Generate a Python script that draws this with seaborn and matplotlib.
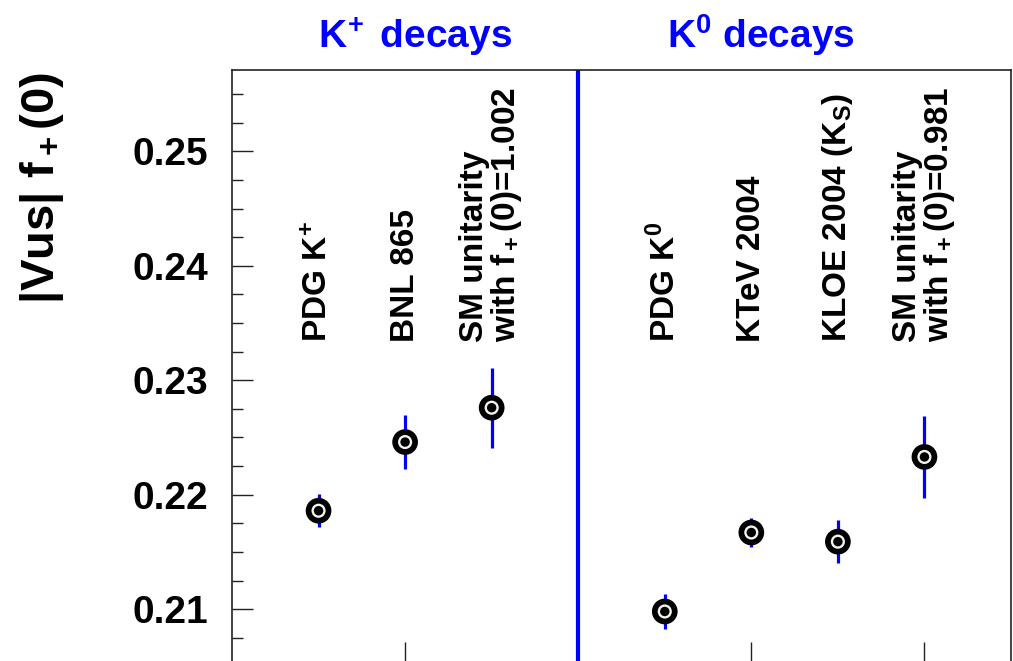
import matplotlib
matplotlib.use("Agg")
import matplotlib.pyplot as plt
import matplotlib.transforms as mtransforms
from matplotlib.ticker import MultipleLocator, FormatStrFormatter
import seaborn as sns
import pandas as pd

# ---- data ----
kplus_labels = ["PDG K$^{\\!+}$", "BNL 865", "SM unitarity\nwith f$_+$(0)=1.002"]
kplus_values = [0.2186, 0.2246, 0.2276]
kplus_errors = [0.00145, 0.00235, 0.0035]

k0_labels = ["PDG K$^0$", "KTeV 2004", "KLOE 2004 (K$_S$)", "SM unitarity\nwith f$_+$(0)=0.981"]
k0_values = [0.2098, 0.2167, 0.2159, 0.2233]
k0_errors = [0.00157, 0.00125, 0.0019, 0.0036]

group_titles = ["K$^{\\!+}$ decays", "K$^0$ decays"]
y_ticks = [0.21, 0.22, 0.23, 0.24, 0.25]
y_label = "|Vus| f$_+$(0)"

# ---- build table ----
n_plus = len(kplus_labels)
x_plus = [i + 1 for i in range(n_plus)]
sep_x = n_plus + 1
x_zero = [sep_x + 1 + i for i in range(len(k0_labels))]
df = pd.DataFrame({
    "x": x_plus + x_zero,
    "value": kplus_values + k0_values,
    "err": kplus_errors + k0_errors,
    "label": kplus_labels + k0_labels,
})

sns.set_style("white")
plt.rcParams["font.family"] = ["Liberation Sans", "DejaVu Sans"]
plt.rcParams["font.weight"] = "bold"
plt.rcParams["mathtext.fontset"] = "custom"
plt.rcParams["mathtext.rm"] = "Liberation Sans:bold"
plt.rcParams["mathtext.bf"] = "Liberation Sans:bold"
plt.rcParams["mathtext.it"] = "Liberation Sans:bold"
plt.rcParams["mathtext.default"] = "bf"
for k in ["text.color", "axes.labelcolor", "xtick.color", "ytick.color"]:
    plt.rcParams[k] = "black"

fig = plt.figure(figsize=(10.13, 6.61), dpi=100)
ax = fig.add_axes([232 / 1013, -2 / 661, (1011 - 232) / 1013, (663 - 70) / 661])

blue = "#0000ff"
# error bars
ax.vlines(df["x"], df["value"] - df["err"], df["value"] + df["err"], color=blue, lw=2.3, zorder=2)
# separator
ax.axvline(sep_x, color=blue, lw=3.0, zorder=1)

# layered circle markers
sns.scatterplot(data=df, x="x", y="value", ax=ax, s=18.5 ** 2, color="black", edgecolor="none", zorder=3, legend=False)
sns.scatterplot(data=df, x="x", y="value", ax=ax, s=10.2 ** 2, color="#f4f4ee", edgecolor="none", zorder=4, legend=False)
sns.scatterplot(data=df, x="x", y="value", ax=ax, s=6.8 ** 2, color="black", edgecolor="none", zorder=5, legend=False)

ax.set_xlim(0, sep_x + len(k0_labels) + 1)
ax.set_ylim(0.2053, 0.2571)

# labels
for _, r in df.iterrows():
    ax.text(r["x"], 0.2333, r["label"], rotation=90, ha="center", va="bottom",
            fontsize=24, fontweight="bold", linespacing=0.95, multialignment="left")

trans = mtransforms.blended_transform_factory(ax.transData, ax.transAxes)
ax.text(2.12, 1.037, group_titles[0], transform=trans, ha="center", va="baseline",
        color=blue, fontsize=28, fontweight="bold")
ax.text(6.11, 1.037, group_titles[1], transform=trans, ha="center", va="baseline",
        color=blue, fontsize=28, fontweight="bold")

# axes styling
ax.set_xlabel("")
ax.set_ylabel("")
ax.set_yticks(y_ticks)
ax.yaxis.set_major_formatter(FormatStrFormatter("%.2f"))
ax.yaxis.set_minor_locator(MultipleLocator(0.0025))
ax.set_xticks([2, 4, 6, 8])
ax.set_xticklabels([])
ax.tick_params(axis="y", which="major", direction="in", length=15, width=1.0, pad=17,
               labelsize=28, left=True, right=False, color="#222222", labelcolor="black")
ax.tick_params(axis="y", which="minor", direction="in", length=8, width=1.0, left=True, right=False, color="#222222")
ax.tick_params(axis="x", which="major", direction="in", length=15, width=1.0, bottom=True, top=False, color="#222222")
for lab in ax.get_yticklabels():
    lab.set_fontweight("bold")
for sp in ax.spines.values():
    sp.set_color("#222222")
    sp.set_linewidth(1.2)

fig.text(42 / 1013, (661 - 304) / 661, y_label, rotation=90, ha="center", va="bottom",
         fontsize=34, fontweight="bold", color="black")

fig.savefig("out.png", dpi=100)
